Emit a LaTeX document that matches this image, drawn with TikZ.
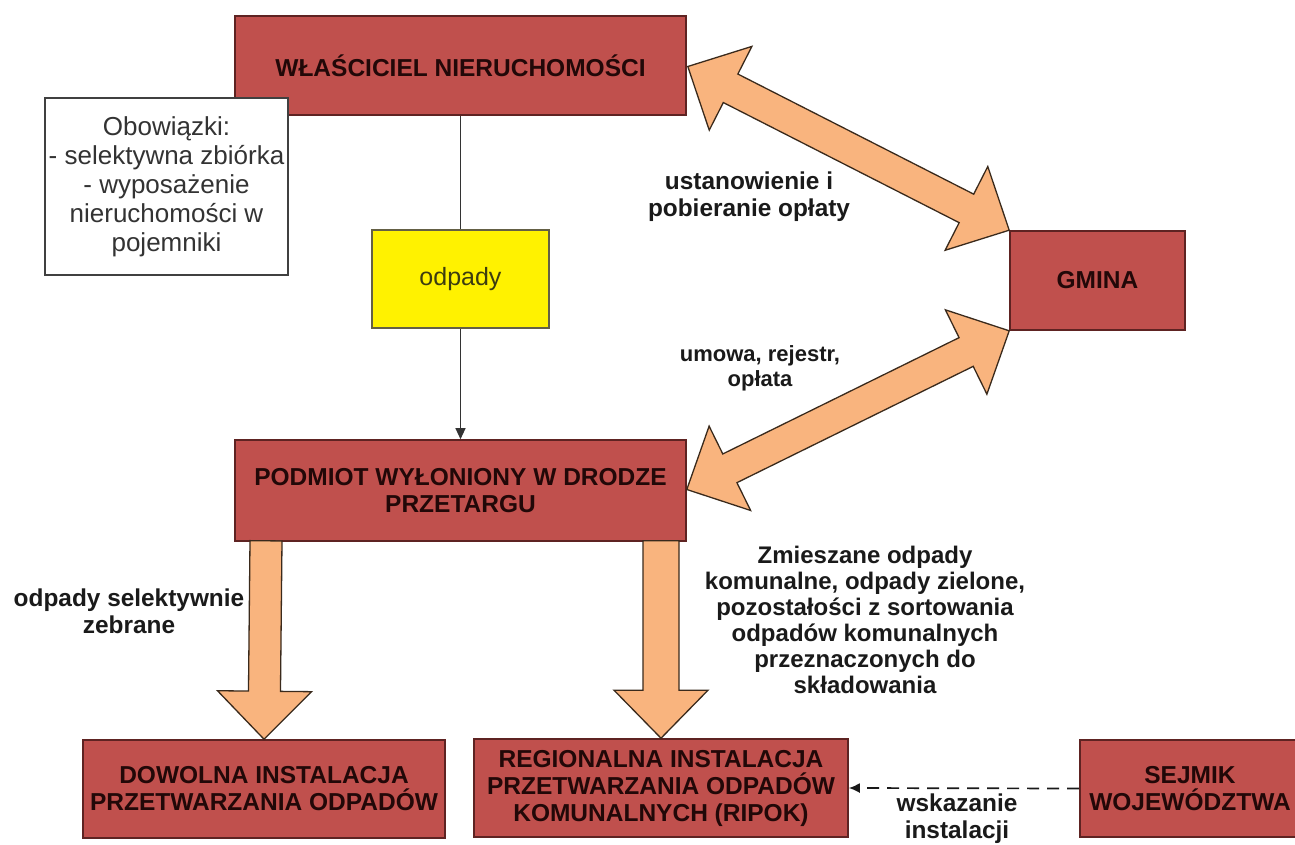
\documentclass[tikz,border=0pt]{standalone}
\usepackage{fontspec}
\setmainfont{Liberation Sans}
\usetikzlibrary{calc,arrows.meta}
\definecolor{boxred}{HTML}{C0504D}
\definecolor{boxline}{HTML}{5E2322}
\definecolor{boxtext}{HTML}{220808}
\definecolor{arrfill}{HTML}{F9B47E}
\definecolor{arrline}{HTML}{3A2A1C}
\definecolor{labtext}{HTML}{1A1A1A}
\definecolor{odptext}{HTML}{3C3C10}
\newcommand\hl{48pt}
\newcommand\hw{47pt}
\newcommand\mydblarrow[3]{%
  \filldraw[bigarrow] (#1)
   -- ($(#1)!\hl!(#2)!\hw!90:(#2)$)
   -- ($(#1)!\hl!(#2)!#3!90:(#2)$)
   -- ($(#2)!\hl!(#1)!#3!-90:(#1)$)
   -- ($(#2)!\hl!(#1)!\hw!-90:(#1)$)
   -- (#2)
   -- ($(#2)!\hl!(#1)!\hw!90:(#1)$)
   -- ($(#2)!\hl!(#1)!#3!90:(#1)$)
   -- ($(#1)!\hl!(#2)!#3!-90:(#2)$)
   -- ($(#1)!\hl!(#2)!\hw!-90:(#2)$)
   -- cycle;}
\newcommand\mysglarrow[3]{%
  \filldraw[bigarrow] ($(#1)!#3!90:(#2)$)
   -- ($(#2)!\hl!(#1)!#3!-90:(#1)$)
   -- ($(#2)!\hl!(#1)!\hw!-90:(#1)$)
   -- (#2)
   -- ($(#2)!\hl!(#1)!\hw!90:(#1)$)
   -- ($(#2)!\hl!(#1)!#3!90:(#1)$)
   -- ($(#1)!#3!-90:(#2)$)
   -- cycle;}
\begin{document}
\begin{tikzpicture}[x=1pt,y=-1pt,
  box/.style={draw=boxline, fill=boxred, line width=1.6pt, inner sep=0pt,
    text=boxtext, align=center, font=\bfseries\fontsize{24.5}{27}\selectfont},
  whitebox/.style={draw=black!75, fill=white, line width=1.3pt, inner sep=0pt,
    text=black!80, align=center, font=\fontsize{26}{29}\selectfont},
  yellowbox/.style={draw=black!70!yellow, fill=yellow, line width=1.3pt, inner sep=0pt,
    text=odptext, font=\fontsize{25}{29}\selectfont},
  lab/.style={text=labtext, align=center, inner sep=0pt, font=\bfseries\fontsize{24.4}{27}\selectfont},
  bigarrow/.style={fill=arrfill, draw=arrline, line width=1.3pt, line join=miter},
  thinline/.style={draw=black!80, line width=1.1pt},
]
\useasboundingbox (0,0) rectangle (1295,845);
% main boxes
\node[box, minimum width=451pt, minimum height=99pt] (wl) at (460.5,65.5) {WŁAŚCICIEL NIERUCHOMOŚCI};
\node[box, minimum width=451pt, minimum height=101pt] (podmiot) at (460.5,490.5) {PODMIOT WYŁONIONY W DRODZE\\PRZETARGU};
\node[box, minimum width=175pt, minimum height=99pt] (gmina) at (1097.5,280.5) {GMINA};
\node[box, minimum width=362pt, minimum height=98pt] (dowolna) at (264,789) {DOWOLNA INSTALACJA\\PRZETWARZANIA ODPADÓW};
\node[box, minimum width=374pt, minimum height=98pt] (regionalna) at (661,788) {REGIONALNA INSTALACJA\\PRZETWARZANIA ODPADÓW\\KOMUNALNYCH (RIPOK)};
\node[box, minimum width=220pt, minimum height=97pt] (sejmik) at (1190,788.5) {SEJMIK\\WOJEWÓDZTWA};
% thin arrow behind yellow box
\draw[thinline, -{Triangle[width=10pt,length=11pt]}] (wl.south) -- (podmiot.north);
\node[yellowbox, minimum width=177pt, minimum height=98pt] (odpady) at (460.5,279) {odpady};
% obligations box
\node[whitebox, minimum width=243pt, minimum height=177pt] (obow) at (166.5,186.5)
  {Obowiązki:\\- selektywna zbiórka\\- wyposażenie\\nieruchomości w\\pojemniki};
% big double arrows
\coordinate (a1) at ($(wl.east)+(1,1)$);
\mydblarrow{a1}{gmina.north west}{16pt}
\coordinate (a2) at ($(podmiot.east)+(0,-1)$);
\mydblarrow{a2}{gmina.south west}{16pt}
% big down arrows
\coordinate (s1) at ($(dowolna.north |- podmiot.south)+(2,-1)$);
\coordinate (t1) at (dowolna.north);
\mysglarrow{s1}{t1}{16pt}
\coordinate (s2) at ($(regionalna.north |- podmiot.south)+(0,-1)$);
\coordinate (t2) at (regionalna.north);
\mysglarrow{s2}{t2}{18pt}
% dashed arrow
\draw[line width=1.7pt, draw=black!90, dash pattern=on 12pt off 8pt, -{Latex[width=10pt,length=11pt]}] (sejmik.west) -- (regionalna.east);
% labels
\node[lab] (l1) at (749,197) {ustanowienie i\\pobieranie opłaty};
\node[lab, font=\bfseries\fontsize{22}{25}\selectfont] (l2) at (760,368) {umowa, rejestr,\\opłata};
\node[lab, font=\bfseries\fontsize{24}{26}\selectfont] (l3) at (865,620) {Zmieszane odpady\\komunalne, odpady zielone,\\pozostałości z sortowania\\odpadów komunalnych\\przeznaczonych do\\składowania};
\node[lab] (l4) at (129,611) {odpady selektywnie\\zebrane};
\node[lab] (l5) at (957,819) {wskazanie\\instalacji};
\end{tikzpicture}
\end{document}
